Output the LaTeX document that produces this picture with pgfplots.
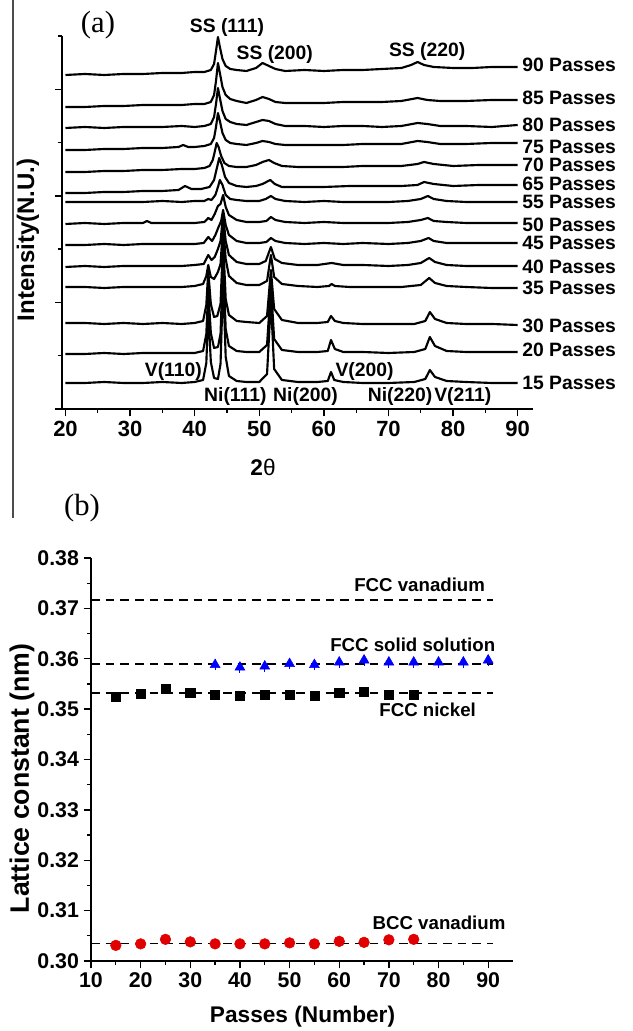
\documentclass[border=0pt]{standalone}
\usepackage{fontspec}
\setmainfont{Liberation Sans}
\newfontfamily\seriffont{Liberation Serif}
\usepackage{pgfplots}
\pgfplotsset{compat=1.18}
\definecolor{mkred}{RGB}{225,0,0}
\definecolor{mkblue}{RGB}{0,0,255}
\tikzset{xrd/.style={black,solid,mark=none,line width=1.6pt,line join=round}}
\begin{document}
\begin{tikzpicture}[x=1pt,y=1pt]
\useasboundingbox (0,0) rectangle (474,773.25);
\draw[black!70, line width=0.8pt] (9.75,773.25) -- (9.75,384.75);
% ---------------- panel (a) ----------------
\begin{axis}[
  at={(46.5pt,466.5pt)}, anchor=south west,
  width=353.25pt, height=279.75pt, scale only axis,
  xmin=19.46, xmax=92.37, ymin=0, ymax=373,
  axis x line*=bottom, axis y line*=left,
  xtick={20,30,...,90}, minor xtick={25,35,...,85},
  ytick={0,106.6,213.1,319.7}, minor ytick={53.3,159.9,266.4,373},
  yticklabels={},
  tick align=outside,
  major tick length=5.5pt, minor tick length=3pt,
  major tick style={line width=1pt,black}, minor tick style={line width=1pt,black},
  axis line style={line width=1pt},
  tick label style={font=\bfseries\fontsize{16.5}{16.5}\selectfont},
  /pgf/number format/assume math mode=true,
  clip=false,
]
% 90 passes
\addplot[xrd] coordinates {(20,334)(23,335)(26,334)(29,335)(32,335)(35,336)(38,336)(40,337)(41.5,337)(42.5,339)(43.0,345)(43.3,358)(43.6,372)(43.9,362)(44.3,350)(44.8,343)(45.5,340)(46.5,339)(48,338)(49.5,341)(50.5,346)(51.5,343)(52.5,340)(54,338)(57,339)(60,338)(63,339)(66,339)(69,340)(72,341)(73.5,344)(74.5,347)(75.5,344)(77,342)(80,341)(83,341)(86,342)(90,342)};
% 85 passes
\addplot[xrd] coordinates {(20,302)(23,302)(26,303)(29,303)(32,304)(35,304)(38,304)(40,305)(41.5,305)(42.5,307)(43.0,314)(43.3,328)(43.6,346)(43.9,336)(44.3,322)(44.8,314)(45.5,310)(46.5,308)(48,306)(49.5,309)(50.5,312)(51.5,310)(52.5,307)(54,306)(57,306)(60,306)(63,307)(66,307)(69,307)(72,308)(74.5,311)(76,309)(78,308)(82,308)(86,309)(90,309)};
% 80 passes
\addplot[xrd] coordinates {(20,281)(23,282)(26,281)(29,282)(32,282)(35,282)(38,283)(40,282)(41.5,283)(42.5,285)(43.0,292)(43.3,305)(43.6,321)(43.9,311)(44.3,298)(44.8,290)(45.5,287)(46.5,285)(48,284)(49.5,287)(50.5,289)(51.5,288)(52.5,285)(54,283)(57,283)(60,282)(63,283)(66,283)(69,282)(72,283)(74.5,286)(76,285)(78,283)(82,283)(86,282)(90,284)};
% 75 passes
\addplot[xrd] coordinates {(20,259)(23,259)(26,260)(29,260)(32,261)(35,261)(37.5,262)(38.2,264)(39,262)(40,262)(41.5,263)(42.5,265)(43.0,271)(43.3,282)(43.6,296)(43.9,288)(44.3,276)(44.8,269)(45.5,266)(46.5,265)(48,264)(49.5,266)(50.5,268)(51.5,267)(52.5,265)(54,264)(57,264)(60,264)(63,264)(66,265)(69,265)(72,265)(74.5,268)(76,267)(78,265)(82,265)(86,266)(90,266)};
% 70 passes
\addplot[xrd] coordinates {(20,237)(23,237)(26,238)(29,238)(32,239)(35,239)(38,240)(40,240)(41.5,241)(42.3,243)(42.8,249)(43.1,257)(43.4,266)(43.7,262)(44.1,253)(44.6,246)(45.3,243)(46.5,242)(48,242)(49.5,244)(50.5,247)(51.5,249)(52.3,246)(53.5,243)(56,242)(60,242)(63,242)(66,243)(69,243)(72,243)(74.5,245)(75.5,247)(77,245)(80,243)(84,244)(90,244)};
% 65 passes
\addplot[xrd] coordinates {(20,216)(23,216)(26,217)(29,217)(32,218)(35,218)(37.5,219)(38.5,223)(39.5,220)(41,220)(42.3,222)(43.0,229)(43.4,240)(43.8,251)(44.2,244)(44.7,232)(45.3,226)(46.5,223)(48,222)(49.5,223)(50.5,225)(51.7,229)(52.4,225)(53.5,222)(56,222)(60,222)(64,223)(68,223)(72,223)(74.5,224)(75.5,227)(77,225)(80,223)(84,224)(90,224)};
% 55 passes
\addplot[xrd] coordinates {(20,207)(23,207)(26,207)(29,207)(32,207)(35,208)(38,207)(40,208)(41.5,208)(42.1,210)(42.6,209)(43.2,214)(43.6,222)(43.9,229)(44.3,224)(44.8,214)(45.5,210)(46.5,209)(48,208)(50,208)(51.0,210)(51.8,213)(52.5,210)(54,208)(57,207)(60,208)(63,207)(66,207)(70,207)(73,208)(75,210)(76.1,213)(77,210)(79,208)(82,207)(86,207)(90,207)};
% 50 passes
\addplot[xrd] coordinates {(20,185)(23,186)(26,185)(29,186)(32,186)(32.6,188)(33.3,186)(35,186)(38,186)(40,186)(41.5,187)(42.1,191)(42.6,189)(43.1,195)(43.6,203)(44.0,205)(44.4,214)(44.8,202)(45.3,194)(46.5,189)(48,187)(50,187)(51.1,188)(51.8,192)(52.5,189)(54,187)(57,186)(60,187)(63,186)(66,186)(70,186)(73,187)(75,189)(76.1,191)(77,188)(79,187)(82,186)(86,186)(90,186)};
% 45 passes
\addplot[xrd] coordinates {(20,164)(23,164)(26,165)(29,164)(32,165)(35,165)(38,165)(40,165)(41.4,166)(42.1,172)(42.7,168)(43.2,174)(43.7,182)(44.1,188)(44.4,199)(44.8,184)(45.3,174)(46.5,168)(48,166)(50,166)(51.1,167)(51.8,171)(52.5,168)(54,166)(57,165)(60,166)(63,165)(66,166)(70,165)(73,166)(75,168)(76.2,171)(77,168)(79,166)(82,166)(86,166)(90,166)};
% 40 passes
\addplot[xrd] coordinates {(20,142)(23,143)(26,142)(29,143)(32,143)(35,143)(38,143)(40,144)(41.4,145)(42.1,154)(42.6,149)(43.1,152)(43.6,160)(44.0,168)(44.4,194)(44.8,168)(45.3,154)(46.5,147)(48,145)(50,145)(51.0,148)(51.8,162)(52.4,150)(53.5,146)(56,144)(59,144)(61.2,146)(63,144)(66,144)(70,143)(73,144)(75,146)(76.3,151)(77.2,147)(79,144)(82,143)(86,143)(90,143)};
% 35 passes
\addplot[xrd] coordinates {(20,122)(23,122)(26,121)(29,122)(32,122)(35,122)(38,122)(40,123)(41.3,125)(41.8,133)(42.1,144)(42.5,132)(43.0,130)(43.6,137)(44.0,145)(44.4,184)(44.8,150)(45.3,133)(46.5,126)(48,124)(50,124)(51.2,128)(51.8,154)(52.3,132)(53.5,125)(56,123)(59,122)(60.8,123)(61.2,125)(61.7,123)(64,122)(68,122)(72,122)(75,124)(76.3,131)(77.2,126)(79,123)(82,122)(86,121)(90,121)};
% 30 passes
\addplot[xrd] coordinates {(20,86)(23,86)(26,85)(29,86)(32,85)(35,86)(38,85)(40,86)(41.3,88)(41.8,104)(42.1,138)(42.5,105)(43.0,92)(43.5,93)(44.0,105)(44.4,169)(44.8,110)(45.3,94)(46.5,88)(48,87)(50,86)(51.2,93)(51.8,139)(52.3,100)(53.5,89)(56,86)(59,86)(60.6,87)(61.1,93)(61.7,88)(63,86)(66,85)(70,85)(74,85)(75.7,88)(76.4,97)(77.2,90)(79,86)(82,85)(86,85)(90,84)};
% 20 passes
\addplot[xrd] coordinates {(20,55)(23,55)(26,56)(29,55)(32,56)(35,56)(38,56)(40,56)(41.3,58)(41.8,75)(42.1,119)(42.5,76)(43.0,61)(43.6,62)(44.0,75)(44.4,149)(44.8,80)(45.3,63)(46.5,58)(48,57)(50,57)(51.2,64)(51.8,124)(52.3,70)(53.5,59)(56,57)(59,57)(60.6,58)(61.1,69)(61.7,60)(63,57)(66,57)(70,56)(74,57)(75.7,60)(76.4,72)(77.2,63)(79,58)(82,57)(86,57)(90,57)};
% 15 passes
\addplot[xrd] coordinates {(20,26)(23,26)(26,27)(29,26)(32,26)(35,27)(38,26)(40,27)(41.3,29)(41.8,46)(42.1,99)(42.5,47)(43.0,31)(43.6,30)(44.0,45)(44.4,129)(44.8,52)(45.3,33)(46.5,28)(48,27)(50,27)(51.2,35)(51.8,109)(52.3,40)(53.5,29)(56,27)(59,27)(60.6,28)(61.1,37)(61.6,29)(63,27)(66,26)(70,26)(74,27)(75.7,30)(76.4,39)(77.2,32)(79,28)(82,27)(86,26)(90,26)};
% labels
\begin{scope}[every node/.style={font=\bfseries\fontsize{14.5}{14.5}\selectfont, anchor=west, inner sep=0pt}]
\node at (axis cs:90.67,344) {90 Passes};
\node at (axis cs:90.67,311) {85 Passes};
\node at (axis cs:90.67,284) {80 Passes};
\node at (axis cs:90.67,262) {75 Passes};
\node at (axis cs:90.67,244) {70 Passes};
\node at (axis cs:90.67,225) {65 Passes};
\node at (axis cs:90.67,207) {55 Passes};
\node at (axis cs:90.67,184) {50 Passes};
\node at (axis cs:90.67,166) {45 Passes};
\node at (axis cs:90.67,142) {40 Passes};
\node at (axis cs:90.67,121) {35 Passes};
\node at (axis cs:90.67,83) {30 Passes};
\node at (axis cs:90.67,59) {20 Passes};
\node at (axis cs:90.67,26) {15 Passes};
\end{scope}
\begin{scope}[every node/.style={font=\bfseries\fontsize{14.5}{14.5}\selectfont, inner sep=0pt}]
\node at (axis cs:45.0,381) {SS (111)};
\node at (axis cs:52.4,354) {SS (200)};
\node at (axis cs:76.0,357) {SS (220)};
\node at (axis cs:36.7,37) {V(110)};
\node at (axis cs:46.3,12) {Ni(111)};
\node at (axis cs:57.15,12) {Ni(200)};
\node at (axis cs:66.3,37) {V(200)};
\node at (axis cs:71.8,12) {Ni(220)};
\node at (axis cs:81.5,12) {V(211)};
\end{scope}
\end{axis}
% ---------------- panel (b) ----------------
\begin{axis}[
  at={(68.25pt,52.5pt)}, anchor=south west,
  width=316.5pt, height=302.25pt, scale only axis,
  xmin=10, xmax=95, ymin=0.30, ymax=0.38,
  axis x line*=bottom, axis y line*=left,
  xtick={10,20,...,90}, minor x tick num=1,
  ytick={0.30,0.31,0.32,0.33,0.34,0.35,0.36,0.37,0.38}, minor y tick num=1,
  yticklabel style={/pgf/number format/.cd, fixed, fixed zerofill, precision=2},
  tick align=outside,
  major tick length=5.5pt, minor tick length=3pt,
  major tick style={line width=1pt,black}, minor tick style={line width=1pt,black},
  axis line style={line width=1pt},
  tick label style={font=\bfseries\fontsize{16}{16}\selectfont},
  /pgf/number format/assume math mode=true,
  clip=false,
]
\addplot[black, line width=1.1pt, dash pattern=on 6.5pt off 4.5pt] coordinates {(10,0.3717)(91,0.3717)};
\addplot[black, line width=1.1pt, dash pattern=on 6.5pt off 4.5pt] coordinates {(10,0.3590)(91,0.3590)};
\addplot[black, line width=1.1pt, dash pattern=on 6.5pt off 4.5pt] coordinates {(10,0.3532)(91,0.3532)};
\addplot[black, line width=1.1pt, dash pattern=on 6.5pt off 4.5pt] coordinates {(10,0.3035)(91,0.3035)};
\addplot[only marks, mark=square*, mark size=3.4pt, black] coordinates {(15,0.3525)(20,0.3530)(25,0.3540)(30,0.3532)(35,0.3528)(40,0.3527)(45,0.3528)(50,0.3528)(55,0.3527)(60,0.3532)(65,0.3535)(70,0.3529)(75,0.3528)};
\addplot[only marks, mark=triangle*, mark size=4.3pt, mkblue, error bars/.cd, y dir=both, y explicit, error bar style={line width=0.8pt, mkblue}, error mark=none] coordinates {(35,0.3588)+-(0,0.0011)(40,0.3583)+-(0,0.0011)(45,0.3585)+-(0,0.0011)(50,0.3590)+-(0,0.0011)(55,0.3588)+-(0,0.0011)(60,0.3593)+-(0,0.0011)(65,0.3597)+-(0,0.0011)(70,0.3593)+-(0,0.0011)(75,0.3593)+-(0,0.0011)(80,0.3593)+-(0,0.0011)(85,0.3593)+-(0,0.0011)(90,0.3597)+-(0,0.0011)};
\addplot[only marks, mark=*, mark size=4pt, mkred, draw=mkred] coordinates {(15,0.3031)(20,0.3034)(25,0.3043)(30,0.3038)(35,0.3034)(40,0.3034)(45,0.3034)(50,0.3036)(55,0.3034)(60,0.3039)(65,0.3037)(70,0.3042)(75,0.3043)};
\begin{scope}[every node/.style={font=\bfseries\fontsize{14}{14}\selectfont, inner sep=0pt}]
\node at (axis cs:76.2,0.3747) {FCC vanadium};
\node at (axis cs:74.8,0.3628) {FCC solid solution};
\node at (axis cs:77.8,0.3499) {FCC nickel};
\node at (axis cs:80.1,0.3075) {BCC vanadium};
\end{scope}
\end{axis}
% axis titles and panel letters
\node[font=\seriffont\fontsize{23}{23}\selectfont] at (73.5,754.5) {(a)};
\node[font=\seriffont\fontsize{23}{23}\selectfont] at (61.5,392) {(b)};
\node[font=\fontsize{17}{17}\selectfont] at (197.25,423) {\textbf{2}θ};
\node[rotate=90, font=\bfseries\fontsize{18}{18}\selectfont] at (21,593.25) {Intensity(N.U.)};
\node[rotate=90, font=\bfseries\fontsize{20}{20}\selectfont] at (16.5,189.4) {Lattice constant (nm)};
\node[font=\bfseries\fontsize{17}{17}\selectfont] at (226.9,10.5) {Passes (Number)};
\end{tikzpicture}
\end{document}
